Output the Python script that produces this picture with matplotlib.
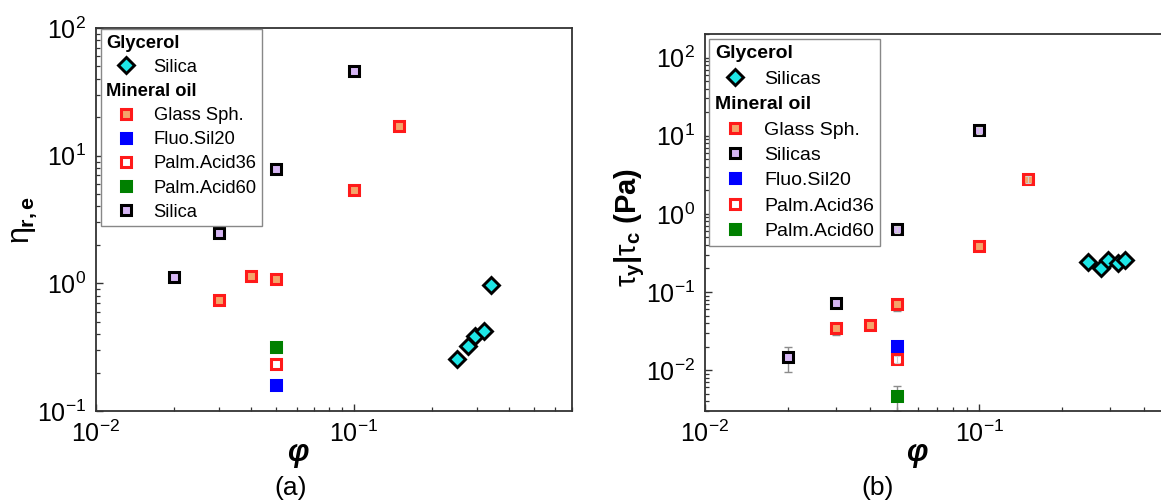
import matplotlib
matplotlib.use('Agg')
import matplotlib.pyplot as plt
from matplotlib.lines import Line2D

plt.rcParams['font.family'] = ['Liberation Sans', 'DejaVu Sans']
plt.rcParams['mathtext.fontset'] = 'custom'
plt.rcParams['mathtext.rm'] = 'Liberation Sans'
plt.rcParams['mathtext.it'] = 'Liberation Sans'
plt.rcParams['mathtext.bf'] = 'Liberation Sans:bold'

# ---------------- data: panel (a) ----------------
gly_phi = [0.25, 0.277, 0.295, 0.32, 0.34]
gly_eta = [0.255, 0.323, 0.387, 0.424, 0.97]
glass_phi = [0.03, 0.04, 0.05, 0.1, 0.15]
glass_eta = [0.74, 1.15, 1.08, 5.4, 17.2]
sil_phi = [0.02, 0.03, 0.05, 0.1]
sil_eta = [1.12, 2.48, 7.9, 46.0]
fluo_phi = [0.05]
fluo_eta = [0.16]
pa36_phi = [0.05]
pa36_eta = [0.234]
pa60_phi = [0.05]
pa60_eta = [0.32]

# ---------------- data: panel (b) ----------------
gly_tau = [0.245, 0.205, 0.255, 0.235, 0.255]
glass_tau = [0.035, 0.0376, 0.07, 0.385, 2.77]
glass_tau_lo = [0.007, 0.001, 0.013, 0.02, 0.3]
glass_tau_hi = [0.002, 0.001, 0.003, 0.02, 0.3]
sil_tau = [0.0147, 0.072, 0.635, 11.7]
sil_tau_lo = [0.0053, 0.002, 0.06, 1.2]
sil_tau_hi = [0.005, 0.002, 0.06, 1.2]
fluo_tau = [0.0203]
pa36_tau = [0.0138]
pa36_tau_lo = [0.0015]
pa36_tau_hi = [0.0015]
pa60_tau = [0.0047]
pa60_tau_lo = [0.0017]
pa60_tau_hi = [0.0016]

# ---------------- styles ----------------
C_CYAN = '#1EE6E6'
C_ORANGE = '#F4A46A'
C_LAV = '#D6B6F4'
sq = dict(marker='s', ms=7.7, mew=2.2, linestyle='none')
st_gly = dict(marker='D', ms=8.2, mew=2.1, linestyle='none', mfc=C_CYAN, mec='black')
st_glass = dict(sq, mfc=C_ORANGE, mec='#FF1A1A')
st_sil = dict(sq, mfc=C_LAV, mec='black')
st_fluo = dict(sq, mfc='#0000FF', mec='#0000FF')
st_pa36 = dict(sq, mfc='white', mec='#FF1A1A')
st_pa60 = dict(sq, mfc='#008000', mec='#008000')

fig = plt.figure(figsize=(11.61, 5.04), dpi=100)
W, H = 1161, 504
axA = fig.add_axes([96 / W, 1 - 411 / H, (572 - 96) / W, (411 - 28) / H])
axB = fig.add_axes([705 / W, 1 - 411 / H, (1211 - 705) / W, (411 - 34) / H])

SP = '#333333'


def style_axes(ax):
    ax.set_xscale('log')
    ax.set_yscale('log')
    for s in ax.spines.values():
        s.set_color(SP)
        s.set_linewidth(1.3)
    ax.tick_params(which='both', direction='in', top=False, right=False,
                   color=SP, labelsize=18, pad=7)
    ax.tick_params(which='major', length=5, width=1.0)
    ax.tick_params(which='minor', length=3, width=0.9)


def header_legend(ax, handles, labels, headers, anchor, spacing, fs, hl):
    leg = ax.legend(handles, labels, loc='upper left', bbox_to_anchor=anchor,
                    borderaxespad=0, fontsize=fs, frameon=True, fancybox=False,
                    edgecolor='#888888', framealpha=1, handlelength=hl,
                    handletextpad=0.42, borderpad=0.3, labelspacing=spacing,
                    numpoints=1)
    leg.get_frame().set_linewidth(1.0)
    rows = []
    for col in leg._legend_handle_box.get_children():
        rows.extend(col.get_children())
    for i, (row, txt) in enumerate(zip(rows, leg.get_texts())):
        if i in headers:
            txt.set_fontweight('bold')
            row.get_children()[0].width = 0
            row.sep = 0
    return leg


blank = Line2D([], [], linestyle='none', marker='')

# ---------------- panel (a) ----------------
style_axes(axA)
axA.plot(gly_phi, gly_eta, zorder=5, **st_gly)
axA.plot(glass_phi, glass_eta, zorder=4, **st_glass)
axA.plot(fluo_phi, fluo_eta, zorder=4, **st_fluo)
axA.plot(pa36_phi, pa36_eta, zorder=4, **st_pa36)
axA.plot(pa60_phi, pa60_eta, zorder=4, **st_pa60)
axA.plot(sil_phi, sil_eta, zorder=4, **st_sil)
axA.set_xlim(0.01, 0.7)
axA.set_ylim(0.1, 100)

hA = [blank, Line2D([], [], **st_gly), blank, Line2D([], [], **st_glass),
      Line2D([], [], **st_fluo), Line2D([], [], **st_pa36),
      Line2D([], [], **st_pa60), Line2D([], [], **st_sil)]
lA = ['Glycerol', 'Silica', 'Mineral oil', 'Glass Sph.', 'Fluo.Sil20',
      'Palm.Acid36', 'Palm.Acid60', 'Silica']
header_legend(axA, hA, lA, {0, 2}, (0.0105, 0.997), 0.39, 13.2, 2.15)

# ---------------- panel (b) ----------------
style_axes(axB)
eb = dict(fmt='none', ecolor='#8C8C8C', elinewidth=1.0, capsize=3, capthick=1.0, zorder=2)
ebin = dict(fmt='none', ecolor='#D0D0D0', elinewidth=0.8, capsize=2.2, capthick=0.8, zorder=6)
axB.errorbar(glass_phi[:3], glass_tau[:3], yerr=[glass_tau_lo[:3], glass_tau_hi[:3]], **eb)
axB.errorbar(sil_phi[:2], sil_tau[:2], yerr=[sil_tau_lo[:2], sil_tau_hi[:2]], **eb)
axB.errorbar(pa60_phi, pa60_tau, yerr=[pa60_tau_lo, pa60_tau_hi], **eb)
axB.plot(gly_phi, gly_tau, zorder=5, **st_gly)
axB.plot(glass_phi, glass_tau, zorder=4, **st_glass)
axB.plot(sil_phi, sil_tau, zorder=4, **st_sil)
axB.plot(fluo_phi, fluo_tau, zorder=4, **st_fluo)
axB.plot(pa36_phi, pa36_tau, zorder=4, **st_pa36)
axB.plot(pa60_phi, pa60_tau, zorder=4, **st_pa60)
# small error bars visible through the markers
axB.errorbar(glass_phi[4:], glass_tau[4:], yerr=[glass_tau_lo[4:], glass_tau_hi[4:]], **ebin)
axB.errorbar(sil_phi[2:], sil_tau[2:], yerr=[sil_tau_lo[2:], sil_tau_hi[2:]], **ebin)
axB.errorbar(pa36_phi, pa36_tau, yerr=[pa36_tau_lo, pa36_tau_hi], **ebin)
axB.set_xlim(0.01, 0.7)
axB.set_ylim(0.003, 200)

hB = [blank, Line2D([], [], **st_gly), blank, Line2D([], [], **st_glass),
      Line2D([], [], **st_sil), Line2D([], [], **st_fluo),
      Line2D([], [], **st_pa36), Line2D([], [], **st_pa60)]
lB = ['Glycerol', 'Silicas', 'Mineral oil', 'Glass Sph.', 'Silicas',
      'Fluo.Sil20', 'Palm.Acid36', 'Palm.Acid60']
header_legend(axB, hB, lB, {0, 2}, (0.008, 0.987), 0.40, 14, 2.1)

# ---------------- labels ----------------
fig.text(298 / W, 1 - 453 / H, 'φ', fontsize=22, fontweight='bold',
         fontstyle='italic', ha='center', va='center')
fig.text(917 / W, 1 - 453 / H, 'φ', fontsize=22, fontweight='bold',
         fontstyle='italic', ha='center', va='center')
fig.text(291 / W, 1 - 488 / H, '(a)', fontsize=19, ha='center', va='center')
fig.text(878 / W, 1 - 488 / H, '(b)', fontsize=19, ha='center', va='center')
fig.text(24 / W, 1 - 220 / H, r'$\eta_{\mathbf{r,e}}$', fontsize=22,
         rotation=90, ha='center', va='center')
fig.text(630 / W, 1 - 227 / H, r'$\tau_{\mathbf{y}}\mathbf{|}\tau_{\mathbf{c}}$ (Pa)',
         fontsize=21, fontweight='bold', rotation=90, ha='center', va='center')

fig.savefig('out.png', dpi=100)
